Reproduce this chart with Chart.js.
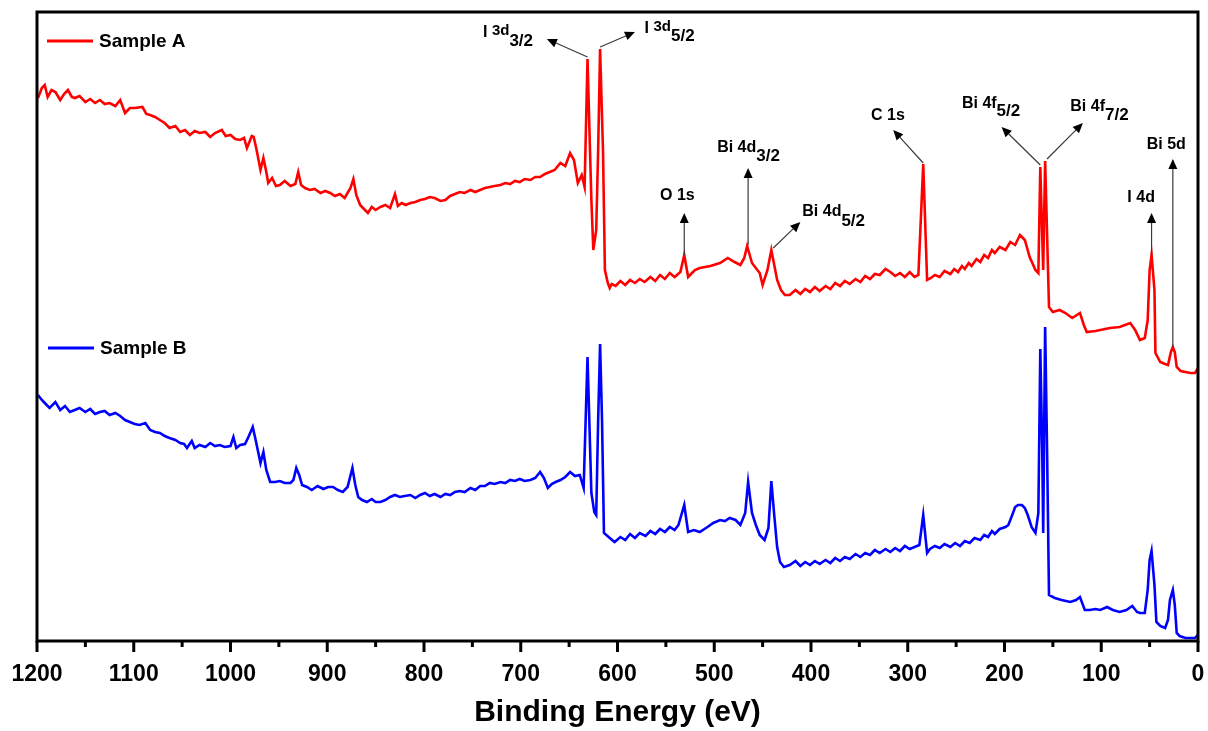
<!DOCTYPE html>
<html>
<head>
<meta charset="utf-8">
<title>XPS survey</title>
<script src="https://cdn.jsdelivr.net/npm/chart.js@4.4.1/dist/chart.umd.min.js"></script>
<style>
  html, body { margin: 0; padding: 0; background: #fff; }
  #wrap { width: 1208px; height: 731px; }
</style>
</head>
<body>
<div id="wrap"><canvas id="xps" width="1208" height="731"></canvas></div>
<script>
  // ---------- Data (binding energy in eV, intensity in a.u.) ----------
  const seriesNames = ['Sample A', 'Sample B'];

  const energyA = [
    1199, 1195, 1192, 1189, 1185, 1181, 1176, 1172, 1168, 1164,
    1161, 1156, 1150, 1145, 1140, 1135, 1130, 1125, 1119, 1114,
    1109, 1104, 1099, 1091, 1087, 1083, 1078, 1073, 1068, 1063,
    1057, 1052, 1047, 1042, 1037, 1032, 1026, 1021, 1016, 1009,
    1005, 1000, 995, 990, 986, 983, 978, 976, 973, 969,
    966, 963, 961, 957, 953, 949, 944, 938, 933, 930,
    927, 923, 918, 913, 907, 902, 897, 892, 887, 882,
    876, 873, 870, 866, 861, 858, 854, 850, 845, 840,
    835, 830, 827, 823, 819, 814, 809, 804, 799, 794,
    789, 783, 778, 773, 768, 763, 758, 752, 747, 742,
    737, 732, 727, 721, 716, 711, 706, 701, 696, 690,
    685, 680, 675, 670, 665, 659, 654, 649, 645, 641,
    637, 634, 631, 627, 625, 622, 620, 618, 615, 613,
    610, 608, 606, 602, 597, 592, 587, 582, 577, 572,
    566, 561, 556, 551, 546, 541, 535, 531,
    527, 520, 515, 504, 494, 486, 479, 473, 469, 466,
    461, 457, 453, 450, 445, 441, 438, 435, 431, 427,
    422, 416, 411, 406, 401, 396, 391, 385, 380, 375,
    370, 365, 360, 354, 349, 344, 339, 334, 329, 323,
    318, 313, 308, 303, 298, 293, 289, 284, 280,
    276, 272, 267, 262, 256, 252, 248, 244, 241, 237,
    234, 229, 225, 221, 217, 213, 210, 205, 199, 194, 189,
    184, 179, 174, 168, 165, 163, 160, 158, 154, 150,
    143, 137, 130, 122, 118, 115, 106, 101, 91, 81,
    70, 65, 60, 55, 52, 50, 48, 45, 44, 39,
    34, 31, 28, 26, 24, 22, 18, 13, 8, 3, 0
  ];
  const intensityA = [
    543, 553, 556, 544, 551, 549, 541, 547, 551, 544,
    543, 545, 539, 542, 538, 541, 537, 538, 535, 541,
    528, 533, 533, 534, 527, 526, 524, 521, 518, 513,
    515, 509, 511, 506, 510, 508, 509, 504, 508, 511,
    505, 506, 502, 501, 503, 493, 505, 504, 491, 471,
    483, 469, 458, 463, 455, 456, 460, 455, 457, 469,
    456, 453, 451, 452, 448, 450, 448, 445, 447, 443,
    453, 462, 446, 436, 431, 428, 434, 431, 434, 436,
    433, 447, 435, 438, 436, 438, 439, 441, 442, 444,
    443, 440, 441, 445, 447, 449, 448, 451, 449, 451,
    453, 454, 455, 456, 458, 457, 460, 459, 462, 461,
    464, 464, 467, 469, 471, 478, 475, 488, 481, 458,
    466, 454, 582, 441, 391, 411, 491, 592, 491, 371,
    358, 353, 357, 355, 360, 356, 361, 358, 362, 359,
    364, 360, 366, 362, 368, 364, 369, 386,
    364, 371, 373, 375, 378, 383, 379, 376, 383, 395,
    378, 373, 368, 356, 371, 391, 376, 361, 351, 346,
    346, 351, 347, 352, 349, 354, 350, 355, 352, 358,
    355, 360, 357, 362, 359, 365, 362, 367, 366, 372,
    369, 365, 368, 364, 369, 364, 366, 477, 361,
    363, 366, 364, 370, 367, 372, 369, 375, 372, 378,
    375, 382, 379, 386, 383, 391, 388, 394, 391, 399, 396,
    406, 401, 384, 371, 368, 474, 371, 480, 334, 329,
    331, 328, 323, 328, 316, 309, 310, 311, 313, 314,
    318, 311, 301, 303, 321, 371, 386, 351, 288, 279,
    277, 276, 289, 294, 289, 274, 270, 269, 268, 268, 273
  ];

  const energyB = [
    1199, 1195, 1191, 1187, 1181, 1176, 1171, 1166, 1161, 1156,
    1150, 1145, 1140, 1135, 1130, 1125, 1119, 1114, 1109, 1104,
    1099, 1094, 1088, 1083, 1078, 1073, 1068, 1063, 1057, 1052,
    1048, 1045, 1040, 1037, 1032, 1026, 1021, 1016, 1011, 1006,
    1000, 997, 994, 990, 985, 981, 977, 974, 969, 966,
    963, 959, 954, 949, 944, 938, 935, 932, 929, 926,
    921, 916, 910, 904, 899, 894, 889, 884, 879, 874,
    871, 868, 864, 859, 854, 850, 845, 840, 835, 830,
    825, 820, 814, 809, 804, 799, 794, 789, 783, 778,
    773, 768, 763, 758, 752, 747, 742, 737, 732, 727,
    721, 716, 711, 706, 701, 696, 690, 685, 680, 676,
    672, 668, 664, 659, 654, 649, 644, 639, 635, 631,
    627, 624, 622, 620, 618, 616, 614,
    608, 603, 597, 592, 587, 582, 577, 571, 566, 561,
    556, 551, 546, 541, 537,
    531, 527, 521, 515, 507,
    501, 494, 489, 484, 478, 473, 468, 465, 461, 457,
    453, 448, 444, 441, 438, 435, 432, 428,
    422, 416, 411, 406, 401, 396, 391, 385, 380, 375,
    370, 365, 360, 354, 349, 344, 339, 334, 329, 323,
    318, 313, 308, 303, 298, 293, 288, 284, 280,
    277, 272, 267, 262, 256, 251, 246, 241, 236, 231,
    225, 221, 217, 213, 210, 205, 199, 196, 192, 189, 186, 182,
    179, 176, 172, 168, 165, 163, 161, 160, 158, 156,
    154, 148, 141, 132, 126, 122, 117, 112, 106, 101,
    94, 88, 81, 74, 68, 63, 60, 55, 52, 50,
    48, 45, 43, 39, 34, 31, 29, 26, 24, 22,
    19, 13, 8, 3, 0
  ];
  const intensityB = [
    246, 241, 237, 233, 239, 231, 235, 229, 231, 233,
    229, 232, 227, 229, 230, 226, 228, 225, 221, 219,
    217, 216, 218, 211, 209, 208, 205, 203, 201, 198,
    197, 193, 200, 193, 196, 194, 198, 195, 196, 194,
    195, 204, 193, 196, 197, 205, 214, 201, 178, 189,
    171, 159, 159, 160, 158, 158, 161, 173, 166, 156,
    154, 151, 155, 152, 154, 154, 151, 149, 154, 173,
    156, 144, 141, 139, 142, 139, 139, 141, 144, 146,
    144, 145, 146, 143, 146, 148, 145, 147, 144, 147,
    146, 149, 150, 149, 153, 151, 155, 155, 158, 157,
    159, 158, 161, 160, 162, 160, 161, 163, 169, 163,
    153, 157, 159, 161, 164, 169, 165, 166, 153, 284,
    148, 129, 126, 221, 297, 221, 108,
    103, 99, 104, 101, 107, 103, 108, 105, 110, 107,
    112, 109, 114, 111, 116,
    136, 109, 111, 109, 114,
    118, 121, 120, 123, 121, 116, 128, 159, 128, 116,
    106, 101, 113, 160, 126, 94, 79, 74,
    76, 80, 75, 79, 76, 80, 77, 81, 78, 83,
    80, 84, 82, 87, 84, 88, 86, 91, 88, 92,
    89, 93, 90, 95, 92, 94, 96, 126, 88,
    92, 95, 93, 97, 94, 98, 95, 100, 98, 103,
    101, 106, 104, 110, 107, 112, 114, 116, 126, 134, 136, 136,
    133, 126, 114, 108, 128, 292, 191, 108, 314, 191,
    46, 43, 41, 39, 41, 44, 31, 31, 32, 31,
    34, 31, 29, 31, 35, 29, 28, 28, 51, 81,
    90, 56, 19, 15, 13, 21, 41, 51, 36, 8,
    5, 3, 3, 3, 6
  ];

  const tickValues = [1200, 1100, 1000, 900, 800, 700, 600, 500, 400, 300, 200, 100, 0];

  // peak labels: text parts, label anchor (eV, a.u.), arrow tail and tip (eV, a.u.)
  const peakLabels = [
    { parts: [['I ', 16, 0], ['3d', 15, -2], ['3/2', 17, 8]], at: [739, 608], from: [631, 584], to: [673, 602] },
    { parts: [['I ', 16, 0], ['3d', 15, -2], ['5/2', 17, 7]], at: [572, 612], from: [618, 594], to: [582, 609] },
    { parts: [['O 1s', 16, 0]], at: [556, 445], from: [531, 386], to: [531, 428] },
    { parts: [['Bi 4d', 16, 0], ['3/2', 17, 8]], at: [497, 493], from: [465, 396], to: [465, 473] },
    { parts: [['Bi 4d', 16, 0], ['5/2', 17, 9]], at: [409, 429], from: [439, 393], to: [411, 419] },
    { parts: [['C 1s', 16, 0]], at: [338, 525], from: [284, 478], to: [315, 511] },
    { parts: [['Bi 4f', 16, 0], ['5/2', 17, 7]], at: [244, 537], from: [163, 476], to: [203, 514] },
    { parts: [['Bi 4f', 16, 0], ['7/2', 17, 8]], at: [132, 534], from: [156, 482], to: [119, 518] },
    { parts: [['I 4d', 16, 0]], at: [73, 443], from: [48, 386], to: [48, 428] },
    { parts: [['Bi 5d', 16, 0]], at: [53, 496], from: [26, 294], to: [26, 482] }
  ];

  // ---------- Helpers ----------
  const FONT = '"Liberation Sans", Arial, sans-serif';

  function toPoints(xs, ys) {
    return xs.map((x, i) => ({ x, y: ys[i] }));
  }

  function drawArrow(ctx, x1, y1, x2, y2) {
    const ang = Math.atan2(y2 - y1, x2 - x1);
    const len = 10;
    const half = 4.5;
    const bx = x2 - len * Math.cos(ang);
    const by = y2 - len * Math.sin(ang);
    ctx.strokeStyle = '#3a3a3a';
    ctx.lineWidth = 1.2;
    ctx.beginPath();
    ctx.moveTo(x1, y1);
    ctx.lineTo(bx, by);
    ctx.stroke();
    ctx.fillStyle = '#000';
    ctx.beginPath();
    ctx.moveTo(x2, y2);
    ctx.lineTo(bx + half * Math.sin(ang), by - half * Math.cos(ang));
    ctx.lineTo(bx - half * Math.sin(ang), by + half * Math.cos(ang));
    ctx.closePath();
    ctx.fill();
  }

  // frame, axis ticks, legend and peak labels
  const decorPlugin = {
    id: 'decor',
    afterDatasetsDraw(chart) {
      const { ctx, chartArea: a, scales } = chart;
      const xs = scales.x;
      const ys = scales.y;
      ctx.save();

      // peak labels
      ctx.textBaseline = 'middle';
      ctx.textAlign = 'left';
      for (const p of peakLabels) {
        drawArrow(ctx, xs.getPixelForValue(p.from[0]), ys.getPixelForValue(p.from[1]),
          xs.getPixelForValue(p.to[0]), ys.getPixelForValue(p.to[1]));
        let tx = xs.getPixelForValue(p.at[0]);
        const ty = ys.getPixelForValue(p.at[1]);
        ctx.fillStyle = '#000';
        for (const [t, size, dy] of p.parts) {
          ctx.font = 'bold ' + size + 'px ' + FONT;
          ctx.fillText(t, tx, ty + dy);
          tx += ctx.measureText(t).width;
        }
      }

      // legend entries
      const legendRows = [
        { name: seriesNames[0], color: '#ff0000', y: a.top + 29, x: a.left + 10 },
        { name: seriesNames[1], color: '#0000ff', y: a.top + 336, x: a.left + 11 }
      ];
      for (const l of legendRows) {
        ctx.strokeStyle = l.color;
        ctx.lineWidth = 3;
        ctx.beginPath();
        ctx.moveTo(l.x, l.y);
        ctx.lineTo(l.x + 46, l.y);
        ctx.stroke();
        ctx.fillStyle = '#000';
        ctx.font = 'bold 19px ' + FONT;
        ctx.fillText(l.name, l.x + 52, l.y + 1);
      }

      // ticks below the axis
      ctx.strokeStyle = '#000';
      ctx.lineWidth = 3;
      for (let v = 0; v <= 1200; v += 50) {
        const px = xs.getPixelForValue(v);
        const len = v % 100 === 0 ? 11 : 6;
        ctx.beginPath();
        ctx.moveTo(px, a.bottom);
        ctx.lineTo(px, a.bottom + len);
        ctx.stroke();
      }

      // frame
      ctx.lineWidth = 3;
      ctx.strokeRect(a.left, a.top, a.right - a.left, a.bottom - a.top);
      ctx.restore();
    }
  };

  // ---------- Chart ----------
  new Chart(document.getElementById('xps'), {
    type: 'line',
    data: {
      datasets: [
        {
          label: seriesNames[0],
          data: toPoints(energyA, intensityA),
          borderColor: '#ff0000',
          borderWidth: 2.6,
          pointRadius: 0,
          tension: 0,
          fill: false
        },
        {
          label: seriesNames[1],
          data: toPoints(energyB, intensityB),
          borderColor: '#0000ff',
          borderWidth: 2.6,
          pointRadius: 0,
          tension: 0,
          fill: false
        }
      ]
    },
    options: {
      responsive: false,
      animation: false,
      devicePixelRatio: 1,
      parsing: false,
      layout: { padding: { left: 37, right: 10, top: 12, bottom: 0 } },
      plugins: { legend: { display: false }, tooltip: { enabled: false } },
      scales: {
        x: {
          type: 'linear',
          min: 0,
          max: 1200,
          reverse: true,
          afterFit: (scale) => {
            scale.height = 90;
            scale.paddingLeft = 0;
            scale.paddingRight = 0;
          },
          afterBuildTicks: (scale) => { scale.ticks = tickValues.map((v) => ({ value: v })); },
          grid: { display: false, drawTicks: false },
          border: { display: false },
          ticks: {
            color: '#000',
            padding: 20,
            maxRotation: 0,
            autoSkip: false,
            callback: (v) => String(v),
            font: { family: FONT, size: 23, weight: 'bold' }
          },
          title: {
            display: true,
            text: 'Binding Energy (eV)',
            color: '#000',
            padding: { top: 0, bottom: 0 },
            font: { family: FONT, size: 30, weight: 'bold' }
          }
        },
        y: { display: false, min: 0, max: 629 }
      }
    },
    plugins: [decorPlugin]
  });
</script>
</body>
</html>
